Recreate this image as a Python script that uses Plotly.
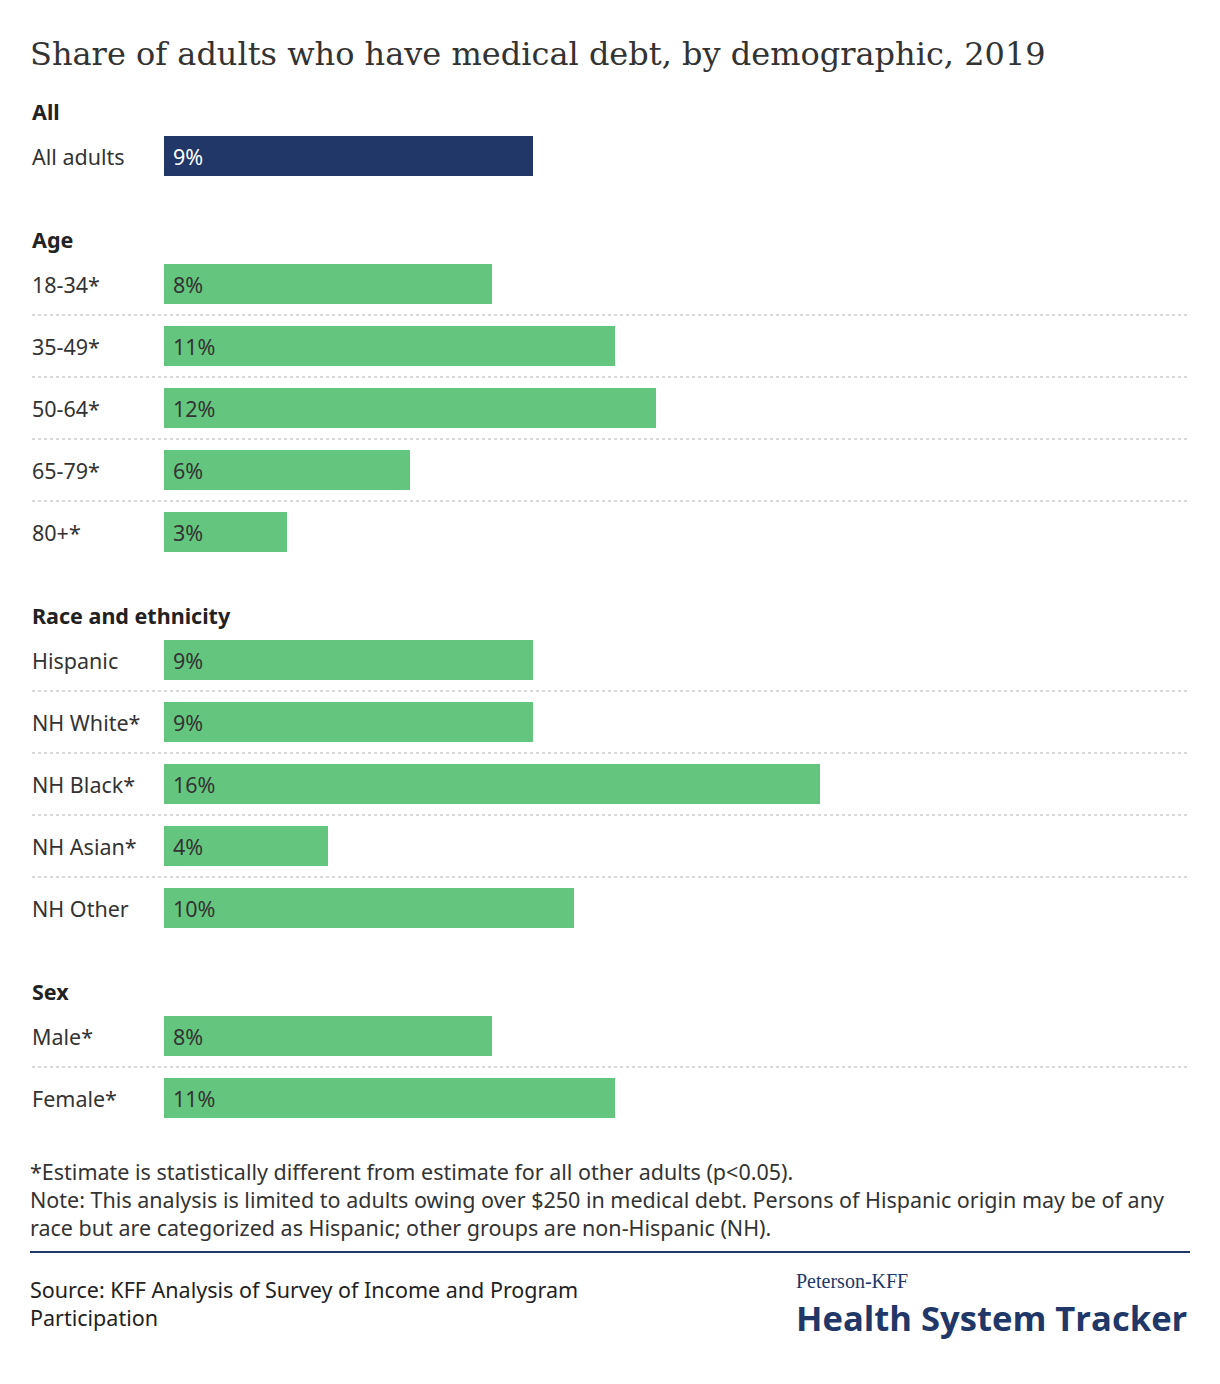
import plotly.graph_objects as go

# ---------------- data ----------------
group_names = ["All", "Age", "Race and ethnicity", "Sex"]
all_labels = ["All adults"]
all_values = [9]
age_labels = ["18-34*", "35-49*", "50-64*", "65-79*", "80+*"]
age_values = [8, 11, 12, 6, 3]
race_labels = ["Hispanic", "NH White*", "NH Black*", "NH Asian*", "NH Other"]
race_values = [9, 9, 16, 4, 10]
sex_labels = ["Male*", "Female*"]
sex_values = [8, 11]

title_text = "Share of adults who have medical debt, by demographic, 2019"
footnote_lines = [
    "*Estimate is statistically different from estimate for all other adults (p<0.05).",
    "Note: This analysis is limited to adults owing over $250 in medical debt. Persons of Hispanic origin may be of any",
    "race but are categorized as Hispanic; other groups are non-Hispanic (NH).",
]
source_lines = ["Source: KFF Analysis of Survey of Income and Program", "Participation"]

# ---------------- layout constants ----------------
W, H = 1220, 1384
ROW_PX = 62.0          # pitch between rows
FIRST_ROW_PX = 156.0   # center of first row
GROUP_GAP = 128.0 / ROW_PX  # distance from last row of a group to first of next
BAR_PX = 40.0
X0_PX = 164.0
PX_PER_PCT = 41.0

NAVY = "#203768"
GREEN = "#64c67e"
TEXT = "#333333"
SANS = "'Noto Sans', sans-serif"
SERIF = "'DejaVu Serif', serif"
FS = 21.5

groups = [
    (group_names[0], all_labels, all_values, NAVY, "white"),
    (group_names[1], age_labels, age_values, GREEN, TEXT),
    (group_names[2], race_labels, race_values, GREEN, TEXT),
    (group_names[3], sex_labels, sex_values, GREEN, TEXT),
]

def py(p):  # pixel y -> paper
    return 1 - p / H

def px(p):  # pixel x -> paper
    return p / W

fig = go.Figure()
annotations = []
shapes = []

pos = 0.0
for gi, (gname, labels, values, color, tcolor) in enumerate(groups):
    if gi > 0:
        pos += GROUP_GAP - 1
    ys = []
    for i in range(len(labels)):
        ys.append(pos)
        pos += 1
    fig.add_trace(go.Bar(
        x=values, y=ys, orientation="h", marker=dict(color=color, line=dict(width=0)),
        width=BAR_PX / ROW_PX, hoverinfo="skip", showlegend=False,
    ))
    # group header
    annotations.append(dict(
        x=px(30), xref="paper", y=ys[0] - 0.71, yref="y", text="<b>%s</b>" % gname,
        showarrow=False, xanchor="left", yanchor="middle",
        font=dict(family=SANS, size=FS, color="#222222"),
    ))
    for i, (lab, v, y) in enumerate(zip(labels, values, ys)):
        annotations.append(dict(
            x=px(30), xref="paper", y=y, yref="y", text=lab, showarrow=False,
            xanchor="left", yanchor="middle", font=dict(family=SANS, size=FS, color=TEXT),
        ))
        annotations.append(dict(
            x=0, xref="x", y=y, yref="y", text="%d%%" % v, showarrow=False,
            xanchor="left", yanchor="middle", xshift=7,
            font=dict(family=SANS, size=FS, color=tcolor),
        ))
        if i > 0:
            mid = (ys[i - 1] + y) / 2
            shapes.append(dict(
                type="line", xref="paper", yref="y", x0=px(32), x1=px(1188), y0=mid, y1=mid,
                line=dict(color="#cccccc", width=1.5, dash="dot"),
            ))

# title
annotations.append(dict(
    x=px(28), xref="paper", y=py(54), yref="paper", text=title_text, showarrow=False,
    xanchor="left", yanchor="middle", font=dict(family=SERIF, size=32, color="#333333"),
))
# footnotes
for t, yp in zip(footnote_lines, [1171, 1199, 1227]):
    annotations.append(dict(
        x=px(28), xref="paper", y=py(yp), yref="paper", text=t, showarrow=False,
        xanchor="left", yanchor="middle", font=dict(family=SANS, size=FS, color=TEXT),
    ))
for t, yp in zip(source_lines, [1289, 1317]):
    annotations.append(dict(
        x=px(28), xref="paper", y=py(yp), yref="paper", text=t, showarrow=False,
        xanchor="left", yanchor="middle", font=dict(family=SANS, size=FS, color="#222222"),
    ))
# logo text
annotations.append(dict(
    x=px(794), xref="paper", y=py(1281), yref="paper", text="Peterson-KFF", showarrow=False,
    xanchor="left", yanchor="middle", font=dict(family="'Liberation Serif', serif", size=20, color=NAVY),
))
annotations.append(dict(
    x=px(794), xref="paper", y=py(1317), yref="paper", text="<b>Health System Tracker</b>",
    showarrow=False, xanchor="left", yanchor="middle",
    font=dict(family="'Open Sans', sans-serif", size=34.6, color=NAVY, weight=800),
))
# separator line
shapes.append(dict(
    type="line", xref="paper", yref="paper", x0=px(30), x1=px(1190), y0=py(1252), y1=py(1252),
    line=dict(color=NAVY, width=2),
))

y_top = (0 - FIRST_ROW_PX) / ROW_PX
y_bot = (H - FIRST_ROW_PX) / ROW_PX
x_left = -X0_PX / PX_PER_PCT
x_right = (W - X0_PX) / PX_PER_PCT

fig.update_layout(
    width=W, height=H, margin=dict(l=0, r=0, t=0, b=0),
    paper_bgcolor="white", plot_bgcolor="white",
    xaxis=dict(range=[x_left, x_right], visible=False, fixedrange=True),
    yaxis=dict(range=[y_bot, y_top], visible=False, fixedrange=True),
    annotations=annotations, shapes=shapes, bargap=0,
)

fig.write_html("out.html", config={"displayModeBar": False},
               post_script="document.body.style.margin='0';")
